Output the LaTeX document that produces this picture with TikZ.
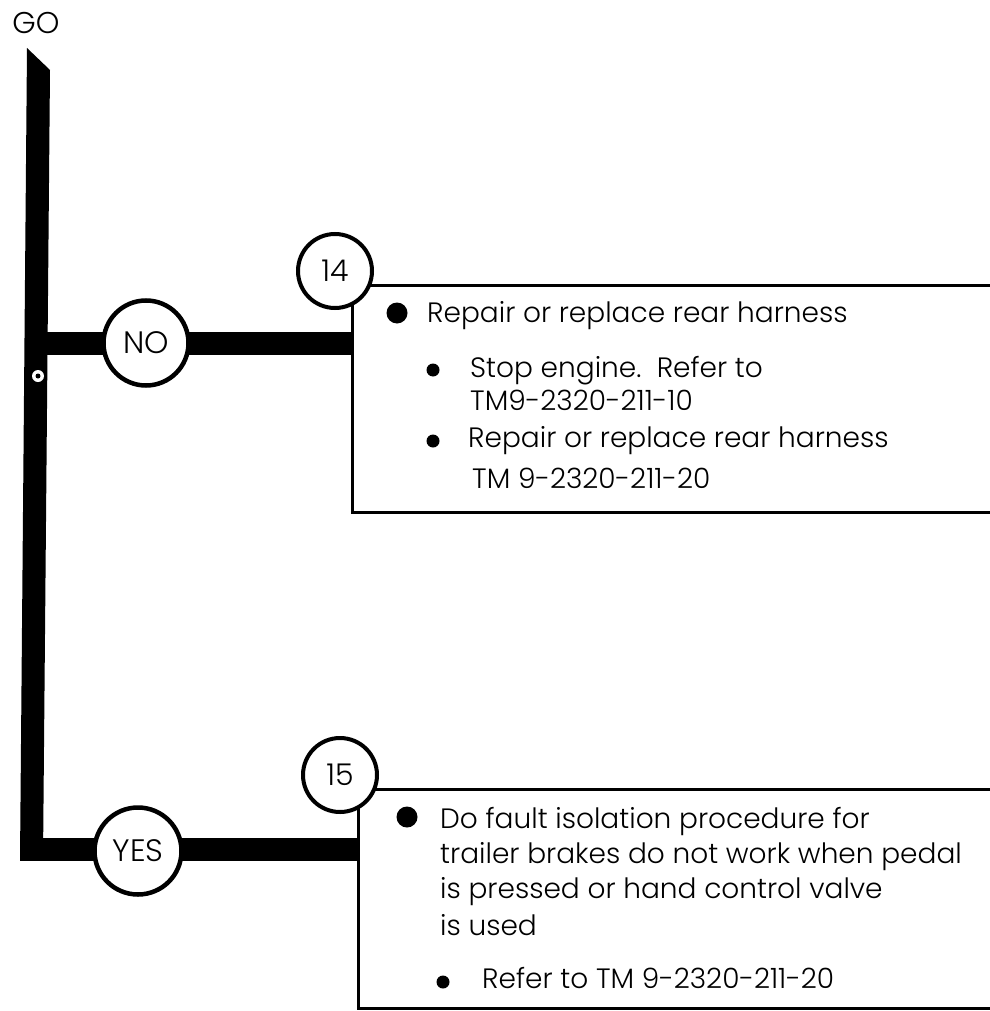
\documentclass[tikz,border=0pt]{standalone}
\usepackage{fontspec}
\setmainfont{Poppins}[UprightFont=* Light]
\begin{document}
\begin{tikzpicture}[x=1pt,y=-1pt,
  txt/.style={anchor=base west, inner sep=0pt, font=\fontsize{28}{30}\selectfont},
  bar/.style={line width=23pt},
  boxline/.style={line width=3pt},
  lbl/.style={circle, draw, line width=4.5pt, fill=white, inner sep=0pt, minimum size=85pt, font=\fontsize{31}{33}\selectfont},
  num/.style={circle, draw, line width=4pt, fill=white, inner sep=0pt, minimum size=74pt, font=\fontsize{30}{32}\selectfont},
]
\useasboundingbox (0,0) rectangle (989,1011);
% GO
\node[inner sep=0pt, font=\fontsize{30}{32}\selectfont] (go) at (36,23.5) {GO};
% trunk
\fill (27,48) -- (50,70) -- (43,860) -- (20,860) -- cycle;
\coordinate (tNO) at (40,343.5);
\coordinate (tYES) at (20,849);
\coordinate (b14) at (352,343.5);
\coordinate (b15) at (358,849);
\draw[bar] (tNO) -- (b14);
\draw[bar] (tYES) -- (b15);
% small ring on trunk
\fill[white] (38,376) circle (6);
\fill[black] (38,376) circle (2.5);
% boxes
\draw[boxline] (995,285) -| (352,512) -- (995,512);
\draw[boxline] (995,789) -| (358,1008) -- (995,1008);
% circles
\node[lbl] (no) at (146,343) {NO};
\node[lbl, minimum size=87pt] (yes) at (138,851) {YES};
\node[num] (n14) at (335,271) {14};
\node[num] (n15) at (340,775) {15};
% box 14 text
\fill (397,313) circle (10.5);
\node[txt] (t1) at (427,322) {Repair or replace rear harness};
\fill (433,370) circle (6.5);
\node[txt] (t2) at (470,377) {Stop engine.\ \ Refer to};
\node[txt] (t3) at (470,410) {TM9-2320-211-10};
\fill (433,441) circle (6.5);
\node[txt] (t4) at (468,447) {Repair or replace rear harness};
\node[txt] (t5) at (472,488) {TM 9-2320-211-20};
% box 15 text
\fill (407,817) circle (10.5);
\node[txt] (u1) at (440,828) {Do fault isolation procedure for};
\node[txt] (u2) at (440,863) {trailer brakes do not work when pedal};
\node[txt] (u3) at (440,898) {is pressed or hand control valve};
\node[txt] (u4) at (440,935) {is used};
\fill (443,982) circle (6.5);
\node[txt] (u5) at (482,988) {Refer to TM 9-2320-211-20};
\end{tikzpicture}
\end{document}
